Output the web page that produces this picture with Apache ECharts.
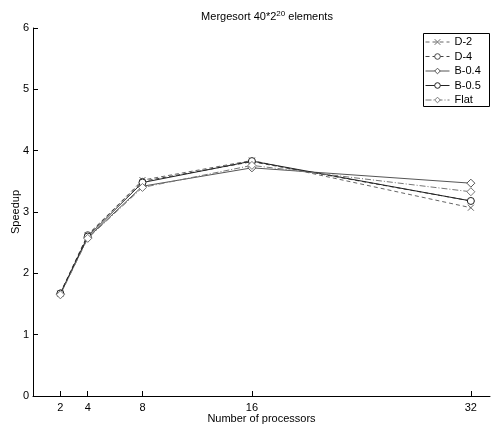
<!DOCTYPE html>
<html>
<head>
<meta charset="utf-8">
<script src="https://cdn.jsdelivr.net/npm/echarts@6/dist/echarts.min.js"></script>
<style>
html,body{margin:0;padding:0;background:#fff;}
#chart{width:491px;height:426px;}
</style>
</head>
<body>
<div id="chart"></div>
<script>
// processors on the x axis
var processors = [2, 4, 8, 16, 32];
var yTicks = [0, 1, 2, 3, 4, 5, 6];

// speedup per variant
var d2   = [1.67, 2.62, 3.52, 3.84, 3.07];
var d4   = [1.68, 2.63, 3.50, 3.82, 3.18];
var b04  = [1.66, 2.58, 3.42, 3.72, 3.47];
var b05  = [1.67, 2.60, 3.48, 3.83, 3.18];
var flat = [1.65, 2.57, 3.40, 3.76, 3.33];

var seriesNames = ['D-2', 'D-4', 'B-0.4', 'B-0.5', 'Flat'];

function pairs(vals){
    return processors.map(function(p, i){ return [p, vals[i]]; });
}

var crossPath = 'path://M0,0L10,10M10,0L0,10';
var diamondPath = 'path://M5,0L10,5L5,10L0,5Z';

function mkSeries(name, vals, lineType, color, symbol, size){
    return {
        name: name,
        type: 'line',
        data: pairs(vals),
        symbol: symbol,
        symbolSize: size,
        showSymbol: true,
        lineStyle: {color: color, width: 1, type: lineType},
        itemStyle: {color: '#fff', borderColor: color, borderWidth: 1},
        emphasis: {disabled: true},
        animation: false
    };
}

var myChart = echarts.init(document.getElementById('chart'));
var options = {
    backgroundColor: '#fff',
    textStyle: {fontFamily: 'Liberation Sans, Arial, sans-serif'},
    title: {
        text: 'Mergesort 40*2{sup|20} elements',
        left: 262,
        top: 5,
        textAlign: 'center',
        textStyle: {
            fontSize: 11,
            fontWeight: 'normal',
            color: '#000',
            rich: {sup: {fontSize: 8, verticalAlign: 'top', padding: [0, 0, 6, 0], color: '#000'}}
        }
    },
    // legend frame
    graphic: [{
        type: 'rect',
        shape: {x: 423.5, y: 33.5, width: 66, height: 73},
        style: {fill: '#fff', stroke: '#000', lineWidth: 1},
        z: 3
    }],
    legend: {
        orient: 'vertical',
        left: 425,
        top: 36,
        itemWidth: 24,
        itemHeight: 7,
        itemGap: 2.5,
        padding: 0,
        z: 5,
        itemStyle: {borderWidth: 1},
        lineStyle: {width: 1},
        textStyle: {fontSize: 11, lineHeight: 12, color: '#000', fontFamily: 'Liberation Sans, Arial, sans-serif'},
        data: seriesNames
    },
    grid: {left: 33, right: 1, top: 28, bottom: 30, containLabel: false, outerBoundsMode: 'none'},
    xAxis: {
        type: 'value',
        min: 0,
        max: 33.4,
        name: 'Number of processors',
        nameLocation: 'middle',
        nameGap: 17,
        nameMoveOverlap: false,
        nameTextStyle: {fontSize: 11, color: '#000'},
        axisLine: {lineStyle: {color: '#000', width: 1}},
        axisTick: {inside: true, length: 5, lineStyle: {color: '#000'}, customValues: processors},
        axisLabel: {fontSize: 11, color: '#000', margin: 6, customValues: processors},
        splitLine: {show: false}
    },
    yAxis: {
        type: 'value',
        min: 0,
        max: 6,
        interval: 1,
        name: 'Speedup',
        nameLocation: 'middle',
        nameGap: 12,
        nameMoveOverlap: false,
        nameTextStyle: {fontSize: 11, color: '#000'},
        axisLine: {show: true, lineStyle: {color: '#000', width: 1}},
        axisTick: {show: true, inside: true, length: 5, lineStyle: {color: '#000'}},
        axisLabel: {fontSize: 11, color: '#000', margin: 4},
        splitLine: {show: false}
    },
    series: [
        mkSeries('D-2', d2, [4, 3], '#666', crossPath, 6),
        mkSeries('D-4', d4, [4, 3], '#444', 'circle', 6),
        mkSeries('B-0.4', b04, 'solid', '#555', diamondPath, 8),
        mkSeries('B-0.5', b05, 'solid', '#222', 'circle', 7),
        mkSeries('Flat', flat, [6, 2, 1, 2], '#777', diamondPath, 8)
    ]
};
myChart.setOption(options);
</script>
</body>
</html>
